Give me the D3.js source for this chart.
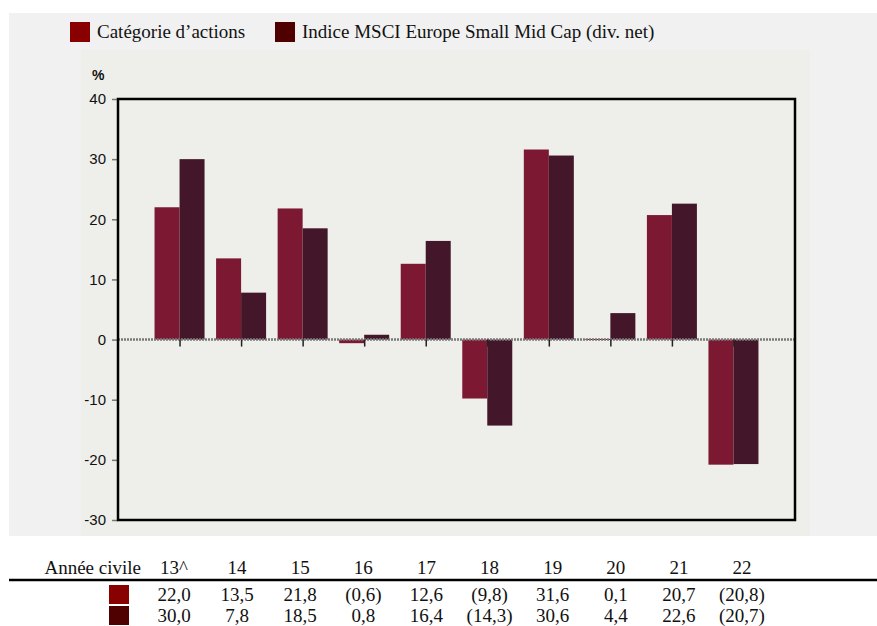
<!DOCTYPE html>
<html lang="fr">
<head>
    <meta charset="UTF-8">
    <title>Catégorie d'actions vs MSCI Europe Small Mid Cap</title>
    <script src="https://cdnjs.cloudflare.com/ajax/libs/d3/7.8.5/d3.min.js"></script>
    <style>
        body { margin: 0; background: #fff; }
        svg { display: block; }
    </style>
</head>
<body>
    <div id="chart"></div>

    <script>
    // Data
    const years = ["13^", "14", "15", "16", "17", "18", "19", "20", "21", "22"];
    const fundValues = [22.0, 13.5, 21.8, -0.6, 12.6, -9.8, 31.6, 0.1, 20.7, -20.8];
    const indexValues = [30.0, 7.8, 18.5, 0.8, 16.4, -14.3, 30.6, 4.4, 22.6, -20.7];
    const seriesNames = ["Catégorie d\u2019actions", "Indice MSCI Europe Small Mid Cap (div. net)"];
    const yTicks = [40, 30, 20, 10, 0, -10, -20, -30];

    const barColors = ["#7c1832", "#431729"];
    const keyColors = ["#880000", "#4f0000"];

    const SERIF = "'Liberation Serif', 'Times New Roman', Times, serif";
    const SANS = "'Liberation Sans', Arial, Helvetica, sans-serif";

    function fmt(v) {
        const s = Math.abs(v).toFixed(1).replace(".", ",");
        return v < 0 ? "(" + s + ")" : s;
    }

    const W = 877, H = 626;
    const plot = {left: 118, right: 795, top: 99, bottom: 520};

    const svg = d3.select("#chart").append("svg")
        .attr("width", W)
        .attr("height", H);

    // background panels
    svg.append("rect").attr("x", 9).attr("y", 13).attr("width", W - 9).attr("height", 523)
        .attr("fill", "#f1f1f1");
    svg.append("rect").attr("x", 81).attr("y", 50).attr("width", 729).attr("height", 486)
        .attr("fill", "#eeeeea");

    // scales
    const x = d3.scalePoint()
        .domain(years)
        .range([plot.left, plot.right])
        .padding(1);

    const y = d3.scaleLinear()
        .domain([-30, 40])
        .range([plot.bottom, plot.top]);

    const barW = 25;

    // legend
    const legend = svg.append("g");
    const legendX = [70, 275];
    seriesNames.forEach((name, i) => {
        legend.append("rect")
            .attr("x", legendX[i]).attr("y", 22)
            .attr("width", 20).attr("height", 20)
            .attr("fill", keyColors[i]);
        legend.append("text")
            .attr("x", legendX[i] + 27).attr("y", 38)
            .style("font-family", SERIF)
            .style("font-size", "19px")
            .attr("fill", "#111")
            .text(name);
    });

    // y axis labels and ticks
    const yAxis = svg.append("g")
        .attr("transform", `translate(${plot.left},0)`)
        .call(d3.axisLeft(y).tickValues(yTicks).tickSize(6).tickPadding(6).tickFormat(d => String(d)));
    yAxis.select(".domain").remove();
    yAxis.selectAll(".tick line").attr("stroke", "#777").attr("stroke-width", 1.5);
    yAxis.selectAll(".tick text")
        .style("font-family", SANS)
        .style("font-size", "15px")
        .attr("fill", "#111");

    svg.append("text")
        .attr("x", 92).attr("y", 80)
        .style("font-family", SANS)
        .style("font-size", "14px")
        .style("font-weight", "bold")
        .attr("fill", "#111")
        .text("%");

    // bars
    const bars = svg.append("g");
    [fundValues, indexValues].forEach((vals, s) => {
        bars.selectAll(".bar" + s)
            .data(vals)
            .enter().append("rect")
            .attr("x", (d, i) => x(years[i]) + (s === 0 ? -barW : 0))
            .attr("y", d => y(Math.max(0, d)))
            .attr("width", barW)
            .attr("height", d => Math.max(1, Math.abs(y(d) - y(0))))
            .attr("fill", barColors[s]);
    });

    // zero line
    svg.append("line")
        .attr("x1", plot.left).attr("x2", plot.right)
        .attr("y1", y(0)).attr("y2", y(0))
        .attr("stroke", "#7a7a7a")
        .attr("stroke-width", 2.5)
        .attr("stroke-dasharray", "2,1");

    // x ticks at zero line
    svg.append("g")
        .attr("transform", `translate(0,${y(0)})`)
        .call(d3.axisBottom(x).tickSize(7).tickFormat(""))
        .call(g => g.select(".domain").remove())
        .selectAll(".tick line").attr("stroke", "#222").attr("stroke-width", 1.5);

    // frame
    svg.append("rect")
        .attr("x", plot.left).attr("y", plot.top)
        .attr("width", plot.right - plot.left).attr("height", plot.bottom - plot.top)
        .attr("fill", "none")
        .attr("stroke", "#000")
        .attr("stroke-width", 2.5);

    // table below chart
    const tx = d3.scalePoint()
        .domain(years)
        .range([174, 742]);

    const table = svg.append("g");

    function cell(sel) {
        return sel.style("font-family", SERIF).style("font-size", "19px").attr("fill", "#111");
    }

    table.append("text")
        .attr("x", 141).attr("y", 574)
        .attr("text-anchor", "end")
        .call(cell)
        .text("Année civile");

    table.selectAll(".yr")
        .data(years)
        .enter().append("text")
        .attr("x", d => tx(d)).attr("y", 574)
        .attr("text-anchor", "middle")
        .call(cell)
        .text(d => d);

    table.append("line")
        .attr("x1", 9).attr("x2", W)
        .attr("y1", 580).attr("y2", 580)
        .attr("stroke", "#000")
        .attr("stroke-width", 2.5);

    const rowY = [601, 622];
    [fundValues, indexValues].forEach((vals, s) => {
        table.append("rect")
            .attr("x", 109).attr("y", rowY[s] - 16)
            .attr("width", 20).attr("height", 19)
            .attr("fill", keyColors[s]);
        table.selectAll(".row" + s)
            .data(vals)
            .enter().append("text")
            .attr("x", (d, i) => tx(years[i])).attr("y", rowY[s])
            .attr("text-anchor", "middle")
            .call(cell)
            .text(d => fmt(d));
    });
    </script>
</body>
</html>
